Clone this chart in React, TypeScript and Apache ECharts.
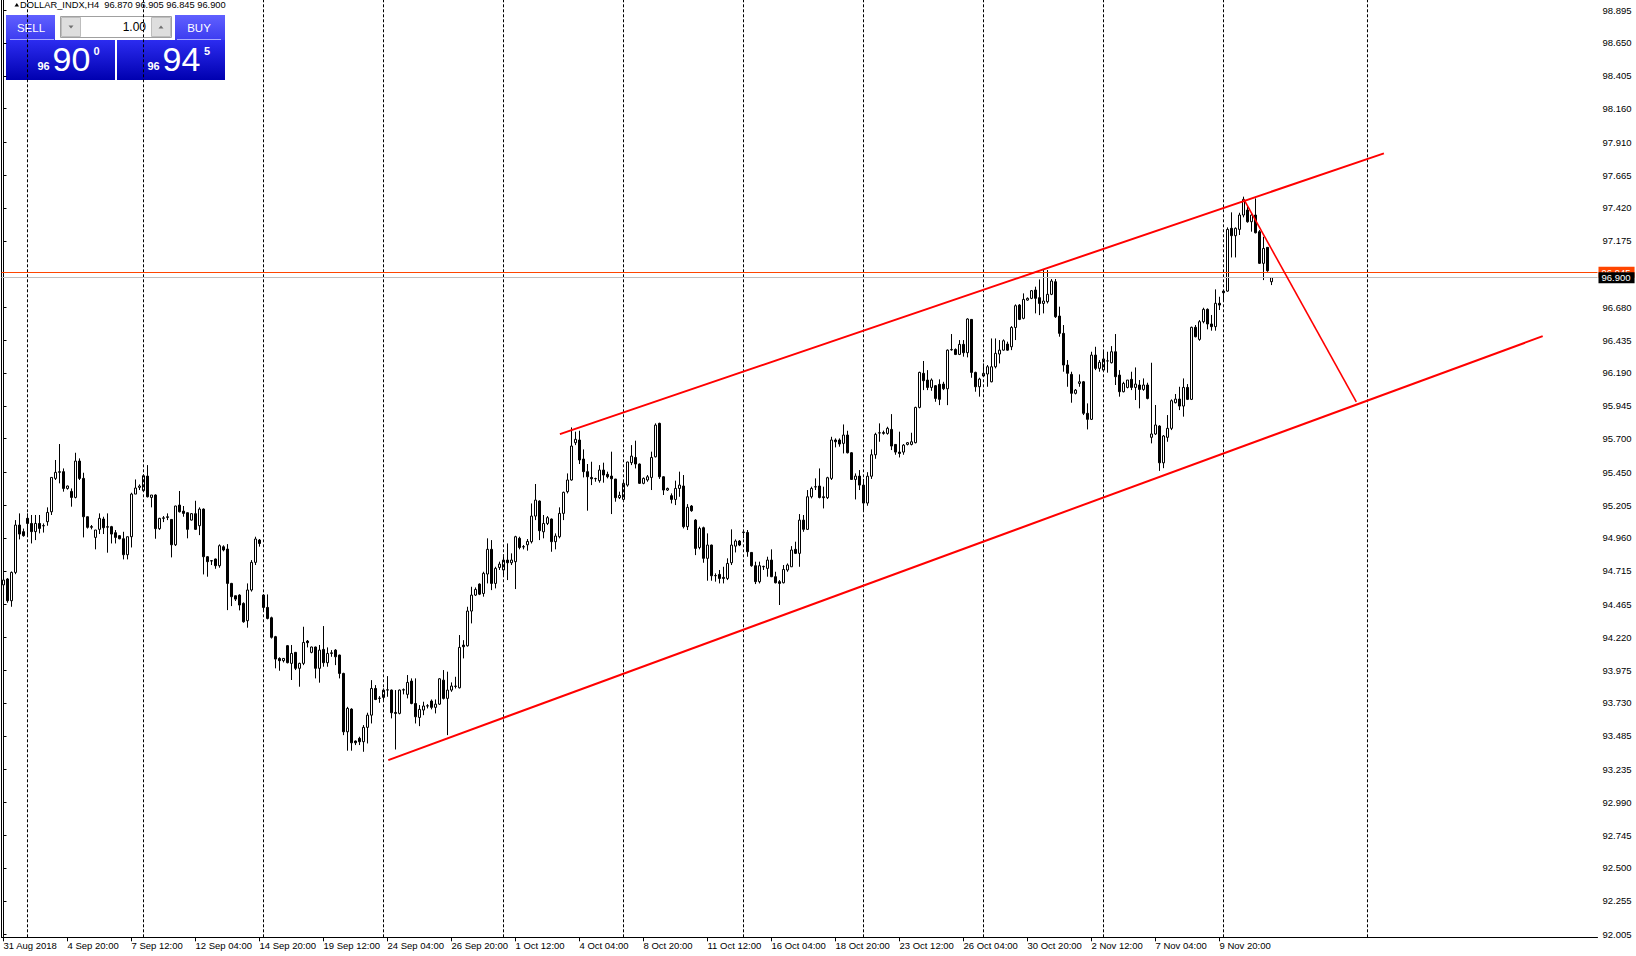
import React, { useEffect, useRef } from "react";
import * as echarts from "echarts";

const FONT = "'Liberation Sans', Arial, sans-serif";

const instrument = "DOLLAR_INDX,H4";

// H4 bars, [open, high, low, close], week by week
const week0831 = [
  [94.61, 94.68, 94.55, 94.646], [94.654, 94.66, 94.477, 94.492], [94.492, 94.71, 94.447, 94.703],
  [94.703, 95.093, 94.69, 95.056], [95.056, 95.143, 94.949, 94.989], [95.007, 95.03, 94.969, 94.977],
];
const week0903 = [
  [95.106, 95.143, 94.969, 95.068], [95.068, 95.131, 94.919, 95.007], [95.007, 95.131, 94.944, 95.068],
  [95.068, 95.131, 94.994, 95.031], [95.05, 95.068, 95.0, 95.052], [95.081, 95.188, 95.051, 95.15],
  [95.155, 95.411, 95.131, 95.411], [95.404, 95.541, 95.392, 95.449], [95.449, 95.66, 95.367, 95.454],
  [95.454, 95.478, 95.305, 95.329], [95.329, 95.35, 95.32, 95.347], [95.307, 95.329, 95.193, 95.262],
  [95.262, 95.595, 95.255, 95.533], [95.533, 95.553, 95.392, 95.404], [95.404, 95.446, 94.964, 95.118],
  [95.118, 95.12, 95.03, 95.039], [95.044, 95.056, 95.024, 95.04], [94.964, 95.02, 94.875, 95.019],
  [95.024, 95.143, 94.989, 95.106], [95.101, 95.118, 94.989, 95.036], [95.04, 95.143, 94.85, 95.044],
  [95.044, 95.05, 94.919, 94.989], [94.999, 95.019, 94.919, 94.964], [94.977, 94.98, 94.95, 94.954],
  [94.954, 95.006, 94.8, 94.835], [94.835, 94.97, 94.8, 94.969], [94.969, 95.297, 94.889, 95.287],
  [95.287, 95.396, 95.287, 95.332], [95.337, 95.359, 95.317, 95.347],
];
const week0910 = [
  [95.312, 95.434, 95.305, 95.424], [95.421, 95.503, 95.262, 95.267], [95.262, 95.28, 95.188, 95.28],
  [95.28, 95.285, 94.954, 95.029], [95.029, 95.11, 95.02, 95.106], [95.106, 95.123, 95.078, 95.11],
  [95.113, 95.143, 95.093, 95.118], [95.098, 95.1, 94.815, 94.909], [94.909, 95.2, 94.9, 95.198],
  [95.205, 95.31, 95.15, 95.155], [95.16, 95.198, 95.118, 95.143], [95.148, 95.15, 94.957, 95.024],
  [95.093, 95.145, 95.09, 95.141], [95.141, 95.237, 95.02, 95.024], [95.051, 95.188, 94.981, 95.175],
  [95.175, 95.18, 94.688, 94.82], [94.82, 94.825, 94.671, 94.783], [94.79, 94.795, 94.758, 94.788],
  [94.803, 94.806, 94.73, 94.753], [94.753, 94.912, 94.738, 94.902], [94.894, 94.905, 94.86, 94.87],
  [94.877, 94.914, 94.422, 94.621], [94.621, 94.625, 94.452, 94.522], [94.529, 94.53, 94.49, 94.504],
  [94.534, 94.54, 94.42, 94.46], [94.472, 94.48, 94.328, 94.335], [94.343, 94.621, 94.291, 94.572],
  [94.572, 94.795, 94.56, 94.778], [94.778, 94.969, 94.758, 94.952], [94.944, 94.952, 94.895, 94.919],
];
const week0917 = [
  [94.534, 94.54, 94.422, 94.442], [94.442, 94.539, 94.353, 94.36], [94.365, 94.373, 94.21, 94.219],
  [94.224, 94.23, 93.988, 94.057], [94.062, 94.07, 93.97, 94.045], [94.045, 94.065, 94.032, 94.062],
  [94.157, 94.162, 94.025, 94.03], [94.025, 94.162, 93.901, 94.099], [94.107, 94.11, 93.975, 93.988],
  [93.988, 94.03, 93.851, 94.025], [94.025, 94.298, 94.012, 94.181], [94.191, 94.199, 94.144, 94.179],
  [94.107, 94.15, 94.1, 94.147], [94.147, 94.15, 93.913, 93.988], [93.988, 94.162, 93.881, 94.124],
  [94.129, 94.303, 94.0, 94.03], [94.03, 94.144, 94.0, 94.099], [94.099, 94.124, 94.074, 94.104],
  [94.124, 94.131, 94.012, 94.074], [94.087, 94.09, 93.913, 93.95], [93.95, 93.955, 93.49, 93.515],
  [93.515, 93.701, 93.374, 93.689], [93.684, 93.69, 93.374, 93.433], [93.446, 93.45, 93.416, 93.433],
  [93.466, 93.478, 93.416, 93.441], [93.441, 93.565, 93.366, 93.548], [93.548, 93.657, 93.428, 93.639],
  [93.639, 93.9, 93.577, 93.838], [93.838, 93.863, 93.751, 93.756], [93.764, 93.781, 93.731, 93.766],
];
const week0924 = [
  [93.771, 93.838, 93.751, 93.826], [93.826, 93.93, 93.776, 93.828], [93.826, 93.83, 93.615, 93.657],
  [93.659, 93.826, 93.383, 93.652], [93.652, 93.83, 93.645, 93.826], [93.826, 93.838, 93.794, 93.829],
  [93.794, 93.938, 93.764, 93.883], [93.893, 93.913, 93.72, 93.726], [93.726, 93.913, 93.577, 93.627],
  [93.622, 93.714, 93.557, 93.682], [93.677, 93.739, 93.639, 93.707], [93.707, 93.721, 93.689, 93.709],
  [93.744, 93.756, 93.682, 93.697], [93.697, 93.756, 93.652, 93.721], [93.721, 93.915, 93.715, 93.91],
  [93.9, 93.975, 93.756, 93.764], [93.764, 93.963, 93.49, 93.826], [93.826, 93.883, 93.813, 93.856],
  [93.853, 93.925, 93.838, 93.856], [93.843, 94.236, 93.838, 94.144], [94.161, 94.198, 94.062, 94.149],
  [94.156, 94.447, 94.15, 94.415], [94.415, 94.596, 94.323, 94.534], [94.534, 94.591, 94.527, 94.576],
  [94.616, 94.621, 94.534, 94.541], [94.546, 94.708, 94.522, 94.696], [94.691, 94.957, 94.621, 94.875],
  [94.875, 94.944, 94.571, 94.621], [94.621, 94.745, 94.584, 94.733], [94.74, 94.783, 94.721, 94.765],
];
const week1001 = [
  [94.721, 94.837, 94.671, 94.795], [94.795, 94.919, 94.646, 94.775], [94.775, 94.845, 94.758, 94.795],
  [94.783, 94.976, 94.579, 94.969], [94.957, 94.969, 94.875, 94.889], [94.895, 94.907, 94.875, 94.893],
  [94.909, 94.952, 94.865, 94.934], [94.932, 95.217, 94.919, 95.123], [95.123, 95.362, 95.093, 95.242],
  [95.235, 95.24, 94.944, 95.014], [95.006, 95.131, 94.957, 95.068], [95.068, 95.123, 95.056, 95.111],
  [95.101, 95.105, 94.857, 94.932], [94.932, 94.994, 94.875, 94.974], [94.969, 95.188, 94.957, 95.143],
  [95.143, 95.305, 95.093, 95.3], [95.305, 95.441, 95.292, 95.392], [95.392, 95.784, 95.387, 95.645],
  [95.67, 95.752, 95.652, 95.695], [95.69, 95.759, 95.511, 95.541], [95.548, 95.62, 95.411, 95.454],
  [95.454, 95.511, 95.163, 95.416], [95.411, 95.528, 95.354, 95.401], [95.401, 95.409, 95.379, 95.403],
  [95.387, 95.503, 95.372, 95.466], [95.466, 95.521, 95.372, 95.429], [95.434, 95.454, 95.404, 95.416],
  [95.421, 95.603, 95.138, 95.401], [95.399, 95.4, 95.23, 95.26], [95.26, 95.305, 95.25, 95.277],
];
const week1008 = [
  [95.247, 95.379, 95.24, 95.367], [95.354, 95.528, 95.342, 95.526], [95.521, 95.652, 95.503, 95.57],
  [95.56, 95.685, 95.478, 95.511], [95.511, 95.515, 95.362, 95.367], [95.367, 95.411, 95.36, 95.404],
  [95.392, 95.429, 95.379, 95.416], [95.411, 95.603, 95.317, 95.56], [95.565, 95.814, 95.56, 95.801],
  [95.814, 95.819, 95.4, 95.416], [95.416, 95.42, 95.28, 95.317], [95.317, 95.335, 95.31, 95.329],
  [95.275, 95.292, 95.217, 95.247], [95.247, 95.387, 95.205, 95.329], [95.329, 95.454, 95.267, 95.354],
  [95.347, 95.429, 95.031, 95.044], [95.044, 95.212, 95.019, 95.188], [95.198, 95.205, 95.155, 95.163],
  [95.093, 95.1, 94.832, 94.882], [94.889, 95.044, 94.875, 95.031], [95.036, 95.044, 94.775, 94.808],
  [94.808, 94.994, 94.641, 94.907], [94.907, 94.91, 94.641, 94.678], [94.678, 94.696, 94.634, 94.68],
  [94.688, 94.721, 94.621, 94.658], [94.666, 94.745, 94.621, 94.658], [94.658, 94.808, 94.646, 94.77],
  [94.775, 95.024, 94.758, 94.907], [94.899, 94.949, 94.852, 94.937], [94.937, 94.944, 94.899, 94.907],
];
const week1015 = [
  [95.001, 95.019, 94.957, 95.004], [95.001, 95.019, 94.82, 94.857], [94.852, 94.855, 94.745, 94.753],
  [94.753, 94.783, 94.616, 94.634], [94.634, 94.783, 94.621, 94.753], [94.745, 94.753, 94.721, 94.748],
  [94.733, 94.82, 94.671, 94.795], [94.795, 94.875, 94.668, 94.671], [94.671, 94.708, 94.621, 94.626],
  [94.634, 94.646, 94.46, 94.621], [94.626, 94.758, 94.621, 94.725], [94.721, 94.77, 94.708, 94.758],
  [94.745, 94.899, 94.745, 94.87], [94.875, 94.932, 94.84, 94.845], [94.845, 95.138, 94.745, 95.093],
  [95.093, 95.131, 95.006, 95.024], [95.024, 95.317, 95.019, 95.267], [95.267, 95.342, 95.255, 95.329],
  [95.34, 95.404, 95.317, 95.342], [95.347, 95.478, 95.255, 95.262], [95.267, 95.342, 95.18, 95.26],
  [95.26, 95.416, 95.25, 95.409], [95.404, 95.714, 95.392, 95.69], [95.69, 95.702, 95.635, 95.677],
  [95.69, 95.702, 95.64, 95.66], [95.665, 95.806, 95.59, 95.727], [95.727, 95.759, 95.59, 95.595],
  [95.595, 95.6, 95.392, 95.396], [95.396, 95.441, 95.247, 95.421], [95.421, 95.466, 95.317, 95.354],
];
const week1022 = [
  [95.354, 95.4, 95.16, 95.22], [95.22, 95.45, 95.2, 95.42], [95.42, 95.62, 95.4, 95.58],
  [95.58, 95.744, 95.55, 95.732], [95.742, 95.814, 95.677, 95.744], [95.739, 95.76, 95.73, 95.746],
  [95.739, 95.789, 95.73, 95.777], [95.769, 95.883, 95.615, 95.645], [95.657, 95.66, 95.58, 95.6],
  [95.6, 95.752, 95.56, 95.59], [95.6, 95.66, 95.58, 95.652], [95.657, 95.675, 95.65, 95.67],
  [95.657, 95.744, 95.65, 95.677], [95.67, 95.938, 95.665, 95.933], [95.933, 96.199, 95.926, 96.194],
  [96.187, 96.279, 96.062, 96.132], [96.137, 96.211, 96.062, 96.082], [96.082, 96.149, 96.057, 96.137],
  [96.095, 96.1, 95.975, 96.0], [96.105, 96.142, 95.95, 95.993], [96.107, 96.124, 96.062, 96.072],
  [96.072, 96.365, 95.95, 96.36], [96.362, 96.48, 96.356, 96.365], [96.365, 96.373, 96.323, 96.328],
  [96.328, 96.435, 96.323, 96.403], [96.403, 96.435, 96.311, 96.341], [96.341, 96.597, 96.306, 96.592],
  [96.589, 96.592, 96.154, 96.194], [96.194, 96.199, 96.05, 96.087], [96.087, 96.154, 96.013, 96.144],
];
const week1029 = [
  [96.167, 96.261, 96.162, 96.187], [96.182, 96.249, 96.087, 96.236], [96.124, 96.447, 96.12, 96.236],
  [96.236, 96.447, 96.224, 96.336], [96.331, 96.435, 96.261, 96.36], [96.36, 96.44, 96.356, 96.43],
  [96.405, 96.423, 96.356, 96.36], [96.385, 96.539, 96.36, 96.529], [96.529, 96.701, 96.435, 96.691],
  [96.696, 96.703, 96.584, 96.589], [96.597, 96.783, 96.59, 96.738], [96.733, 96.753, 96.728, 96.746],
  [96.746, 96.808, 96.74, 96.803], [96.808, 96.833, 96.634, 96.746], [96.751, 96.887, 96.621, 96.708],
  [96.708, 96.957, 96.634, 96.726], [96.721, 96.957, 96.708, 96.776], [96.776, 96.89, 96.77, 96.875],
  [96.87, 96.89, 96.6, 96.609], [96.614, 96.684, 96.46, 96.485], [96.485, 96.547, 96.199, 96.249],
  [96.249, 96.286, 96.087, 96.187], [96.179, 96.199, 95.968, 96.038], [96.038, 96.07, 96.03, 96.062],
  [96.112, 96.179, 96.087, 96.124], [96.124, 96.13, 95.876, 95.889], [95.889, 95.963, 95.769, 95.844],
  [95.844, 96.348, 95.839, 96.323], [96.323, 96.385, 96.211, 96.224], [96.224, 96.286, 96.199, 96.269],
];
const week1105 = [
  [96.211, 96.348, 96.199, 96.294], [96.279, 96.348, 96.192, 96.28], [96.266, 96.39, 96.261, 96.348],
  [96.348, 96.48, 96.1, 96.162], [96.174, 96.211, 96.013, 96.05], [96.05, 96.124, 96.045, 96.112],
  [96.082, 96.137, 96.075, 96.137], [96.142, 96.199, 96.062, 96.082], [96.082, 96.231, 95.988, 96.107],
  [96.1, 96.137, 95.926, 96.067], [96.067, 96.149, 96.057, 96.1], [96.1, 96.117, 95.993, 96.0],
  [95.71, 96.266, 95.665, 95.735], [95.735, 95.951, 95.727, 95.802], [95.794, 95.8, 95.46, 95.52],
  [95.52, 95.727, 95.48, 95.72], [95.71, 95.876, 95.677, 95.777], [95.777, 95.993, 95.764, 95.983],
  [95.968, 96.033, 95.963, 95.995], [95.995, 96.087, 95.913, 95.943], [95.943, 96.149, 95.864, 96.082],
  [96.082, 96.107, 95.988, 95.993], [95.993, 96.535, 95.988, 96.53], [96.53, 96.547, 96.455, 96.46],
  [96.44, 96.584, 96.43, 96.572], [96.572, 96.676, 96.56, 96.664], [96.664, 96.671, 96.515, 96.555],
  [96.555, 96.622, 96.505, 96.535], [96.535, 96.813, 96.505, 96.709], [96.709, 96.758, 96.659, 96.696],
];
const week1112 = [
  [96.8, 96.808, 96.728, 96.788], [96.8, 97.275, 96.795, 97.26], [97.268, 97.387, 97.051, 97.213],
  [97.213, 97.275, 97.051, 97.268], [97.26, 97.384, 97.218, 97.367], [97.367, 97.504, 97.35, 97.484],
  [97.404, 97.441, 97.31, 97.317], [97.317, 97.374, 97.243, 97.367], [97.367, 97.491, 97.23, 97.235],
  [97.243, 97.255, 97.002, 97.007], [97.007, 97.205, 96.882, 97.118], [97.126, 97.126, 96.944, 96.952],
  [96.87, 96.905, 96.845, 96.9],
];

// time axis labels, one every 16 bars
const dateLabels = [
  "31 Aug 2018", "4 Sep 20:00", "7 Sep 12:00", "12 Sep 04:00", "14 Sep 20:00", "19 Sep 12:00",
  "24 Sep 04:00", "26 Sep 20:00", "1 Oct 12:00", "4 Oct 04:00", "8 Oct 20:00", "11 Oct 12:00",
  "16 Oct 04:00", "18 Oct 20:00", "23 Oct 12:00", "26 Oct 04:00", "30 Oct 20:00", "2 Nov 12:00",
  "7 Nov 04:00", "9 Nov 20:00",
];
const labelStep = 16;
// bar slots shown (incl. empty space to the right)
const slotCount = 399;
// first bar of each week (period separators) and an extra vertical line
const weekStartBars = [6, 35, 65, 95, 125, 155, 185, 215, 245, 275, 305];
const extraVerticalBar = 341;

// price scale
const priceTicks = [
  98.895, 98.65, 98.405, 98.16, 97.91, 97.665, 97.42, 97.175, 96.68, 96.435, 96.19, 95.945,
  95.7, 95.45, 95.205, 94.96, 94.715, 94.465, 94.22, 93.975, 93.73, 93.485, 93.235, 92.99,
  92.745, 92.5, 92.255, 92.005,
];
const priceMin = 91.983;
const priceMax = 98.97;
const bidPrice = 96.9;
const askPrice = 96.945;

// drawn trend lines: [barIndex, price]
const upperChannel = [[139.1, 95.734], [345.1, 97.827]];
const lowerChannel = [[96.2, 93.304], [384.8, 96.464]];
const dropLine = [[310.1, 97.484], [338.2, 95.975]];

const bars = [
  ...week0831, ...week0903, ...week0910, ...week0917, ...week0924, ...week1001,
  ...week1008, ...week1015, ...week1022, ...week1029, ...week1105, ...week1112,
];

function isLabelIndex(i: number) {
  return i % labelStep === 0 && i / labelStep < dateLabels.length;
}

export default function App() {
  const ref = useRef<HTMLDivElement>(null);

  useEffect(() => {
    if (!ref.current) return;
    const chart = echarts.init(ref.current, undefined, { renderer: "svg" });

    const categories = Array.from({ length: slotCount }, (_, i) =>
      isLabelIndex(i) ? dateLabels[i / labelStep] : `#${i}`
    );
    const candleData = bars.map(([o, h, l, c]) => [o, c, l, h]);
    const last = bars[bars.length - 1];
    const headerText = `${instrument}  ${last.map((v) => v.toFixed(3)).join(" ")}`;

    const bidStr = bidPrice.toFixed(3);
    const askStr = askPrice.toFixed(3);

    const blueTop = new echarts.graphic.LinearGradient(0, 0, 0, 1, [
      { offset: 0, color: "#6060ff" },
      { offset: 1, color: "#3c3cf0" },
    ]);
    const blueBottomL = new echarts.graphic.LinearGradient(0, 0, 0, 1, [
      { offset: 0, color: "#2c2cf0" },
      { offset: 1, color: "#0000b0" },
    ]);
    const blueBottomR = new echarts.graphic.LinearGradient(0, 0, 0, 1, [
      { offset: 0, color: "#2c2cf0" },
      { offset: 1, color: "#0000b0" },
    ]);

    const white = "#ffffff";
    const graphics: any[] = [
      // header
      { type: "polygon", shape: { points: [[14.5, 6.5], [16.8, 3], [19, 6.5]] }, style: { fill: "#000" } },
      {
        type: "text", x: 20, y: 5,
        style: { text: headerText, fill: "#000", fontSize: 9.3, fontFamily: FONT, textVerticalAlign: "middle" },
      },
      // one-click trading panel
      { type: "rect", shape: { x: 6, y: 15, width: 49, height: 25 }, style: { fill: blueTop } },
      { type: "rect", shape: { x: 175, y: 15, width: 50, height: 25 }, style: { fill: blueTop } },
      { type: "rect", shape: { x: 55, y: 15, width: 120, height: 25 }, style: { fill: white } },
      { type: "rect", shape: { x: 60.5, y: 16.5, width: 111, height: 21 }, style: { fill: white, stroke: "#a0a0a0", lineWidth: 1 } },
      { type: "rect", shape: { x: 61.5, y: 17.5, width: 19, height: 19 }, style: { fill: "#dedede", stroke: "#bdbdbd", lineWidth: 1 } },
      { type: "rect", shape: { x: 151.5, y: 17.5, width: 19, height: 19 }, style: { fill: "#dedede", stroke: "#bdbdbd", lineWidth: 1 } },
      { type: "polygon", shape: { points: [[68.5, 25.5], [73.5, 25.5], [71, 28.5]] }, style: { fill: "#707070" } },
      { type: "polygon", shape: { points: [[158.5, 28.5], [163.5, 28.5], [161, 25.5]] }, style: { fill: "#707070" } },
      {
        type: "text", x: 146, y: 27,
        style: { text: "1.00", fill: "#000", fontSize: 12, fontFamily: FONT, textAlign: "right", textVerticalAlign: "middle" },
      },
      { type: "line", shape: { x1: 10, y1: 39.5, x2: 54, y2: 39.5 }, style: { stroke: "#a8a8ff", lineWidth: 1 } },
      { type: "line", shape: { x1: 177, y1: 39.5, x2: 221, y2: 39.5 }, style: { stroke: "#a8a8ff", lineWidth: 1 } },
      {
        type: "text", x: 31, y: 27.5,
        style: { text: "SELL", fill: white, fontSize: 11.5, fontFamily: FONT, textAlign: "center", textVerticalAlign: "middle" },
      },
      {
        type: "text", x: 199, y: 27.5,
        style: { text: "BUY", fill: white, fontSize: 11.5, fontFamily: FONT, textAlign: "center", textVerticalAlign: "middle" },
      },
      { type: "rect", shape: { x: 6, y: 40, width: 109, height: 40 }, style: { fill: blueBottomL } },
      { type: "rect", shape: { x: 117, y: 40, width: 108, height: 40 }, style: { fill: blueBottomR } },
      // sell price
      {
        type: "text", x: 43.5, y: 66,
        style: { text: bidStr.slice(0, 2), fill: white, fontSize: 11, fontWeight: "bold", fontFamily: FONT, textAlign: "center", textVerticalAlign: "middle" },
      },
      {
        type: "text", x: 52.5, y: 59,
        style: { text: bidStr.slice(3, 5), fill: white, fontSize: 34, fontFamily: FONT, textAlign: "left", textVerticalAlign: "middle" },
      },
      {
        type: "text", x: 96.5, y: 51,
        style: { text: bidStr.slice(5, 6), fill: white, fontSize: 11, fontWeight: "bold", fontFamily: FONT, textAlign: "center", textVerticalAlign: "middle" },
      },
      // buy price
      {
        type: "text", x: 153.5, y: 66,
        style: { text: askStr.slice(0, 2), fill: white, fontSize: 11, fontWeight: "bold", fontFamily: FONT, textAlign: "center", textVerticalAlign: "middle" },
      },
      {
        type: "text", x: 162.5, y: 59,
        style: { text: askStr.slice(3, 5), fill: white, fontSize: 34, fontFamily: FONT, textAlign: "left", textVerticalAlign: "middle" },
      },
      {
        type: "text", x: 207, y: 51,
        style: { text: askStr.slice(5, 6), fill: white, fontSize: 11, fontWeight: "bold", fontFamily: FONT, textAlign: "center", textVerticalAlign: "middle" },
      },
    ];

    const trendSeries = (data: number[][], width: number) => ({
      type: "line",
      xAxisIndex: 1,
      yAxisIndex: 0,
      data,
      symbol: "none",
      silent: true,
      z: 5,
      lineStyle: { color: "#ff0000", width },
    });

    const option: any = {
      animation: false,
      textStyle: { fontFamily: FONT },
      grid: { left: 1.5, right: 38.5, top: 0, bottom: 18.7, containLabel: false },
      xAxis: [
        {
          type: "category",
          data: categories,
          boundaryGap: true,
          axisLine: { onZero: false, lineStyle: { color: "#000", width: 1 } },
          axisTick: { show: true, interval: (i: number) => isLabelIndex(i), alignWithLabel: true, length: 4, lineStyle: { color: "#000" } },
          axisLabel: {
            interval: (i: number) => isLabelIndex(i),
            align: "left",
            margin: 3,
            color: "#000",
            fontSize: 9.5,
            fontFamily: FONT,
            formatter: (v: string) => v,
          },
          splitLine: { show: false },
        },
        { type: "value", min: -0.5, max: slotCount - 0.5, show: false },
      ],
      yAxis: [
        {
          type: "value",
          position: "right",
          min: priceMin,
          max: priceMax,
          axisLine: { show: true, lineStyle: { color: "#000", width: 1 } },
          axisTick: { show: true, customValues: priceTicks, length: 3, lineStyle: { color: "#000" } },
          axisLabel: {
            customValues: priceTicks,
            formatter: (v: number) => v.toFixed(3),
            margin: 5,
            color: "#000",
            fontSize: 9.5,
            fontFamily: FONT,
          },
          splitLine: { show: false },
        },
        {
          type: "value",
          position: "left",
          min: priceMin,
          max: priceMax,
          axisLine: { show: true, lineStyle: { color: "#000", width: 1 } },
          axisTick: { show: false },
          axisLabel: { show: false },
          splitLine: { show: false },
        },
      ],
      series: [
        {
          name: "separators",
          type: "line",
          xAxisIndex: 1,
          yAxisIndex: 0,
          data: [],
          z: 1,
          silent: true,
          markLine: {
            silent: true,
            symbol: ["none", "none"],
            label: { show: false },
            lineStyle: { color: "#000", width: 1, type: [3, 2] },
            data: [...weekStartBars, extraVerticalBar].map((b) => ({ xAxis: b })),
          },
        },
        {
          name: instrument,
          type: "candlestick",
          xAxisIndex: 0,
          yAxisIndex: 0,
          data: candleData,
          barWidth: 2,
          z: 2,
          itemStyle: {
            color: "#ffffff",
            color0: "#000000",
            borderColor: "#000000",
            borderColor0: "#000000",
            borderWidth: 1,
          },
          markLine: {
            silent: true,
            symbol: ["none", "none"],
            data: [
              {
                yAxis: askPrice,
                lineStyle: { color: "#ff4500", width: 1, type: "solid" },
                label: {
                  show: true, position: "end", distance: 1, formatter: askStr,
                  backgroundColor: "#ff4500", color: "#fff", fontSize: 9.5, padding: [1, 4, 0, 3],
                },
              },
              {
                yAxis: bidPrice,
                lineStyle: { color: "#c0c0c0", width: 1, type: "solid" },
                label: {
                  show: true, position: "end", distance: 1, formatter: bidStr,
                  backgroundColor: "#000", color: "#fff", fontSize: 9.5, padding: [1, 4, 0, 3],
                },
              },
            ],
          },
        },
        trendSeries(upperChannel, 2),
        trendSeries(lowerChannel, 2),
        trendSeries(dropLine, 1.6),
      ],
      graphic: { elements: graphics },
    };

    chart.setOption(option);
    return () => chart.dispose();
  }, []);

  return (
    <div
      ref={ref}
      style={{ position: "absolute", left: 0, top: 0, width: 1636, height: 956, background: "#fff" }}
    />
  );
}
